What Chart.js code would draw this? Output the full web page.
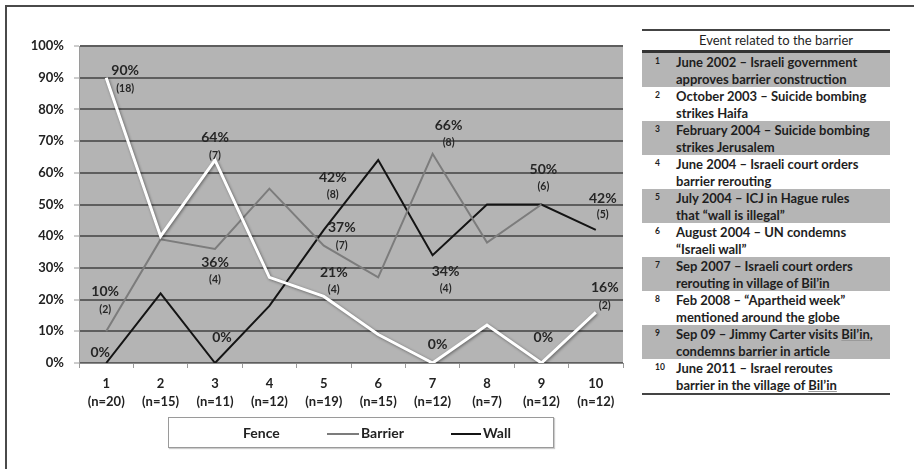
<!DOCTYPE html>
<html>
<head>
<meta charset="utf-8">
<script src="https://cdn.jsdelivr.net/npm/chart.js@4.4.0/dist/chart.umd.min.js"></script>
<style>
  body { margin: 0; background: #fff; font-family: Lato, "Liberation Sans", sans-serif; }
  #page { position: relative; width: 914px; height: 469px; overflow: hidden; background: #fff; }
  #frame { position: absolute; left: 5px; top: 5px; width: 920px; height: 480px;
           border-top: 2px solid #4a4a4a; border-left: 2px solid #4a4a4a; }
  #chartBox { position: absolute; left: 0; top: 0; width: 640px; height: 469px; }
  #legend { position: absolute; left: 168px; top: 417px; width: 384px; height: 29px;
            border: 1px solid #9a9a9a; box-shadow: 1px 1px 1px #ccc; background: #fff; }
  .lg { position: absolute; top: 0; height: 29px; line-height: 29px; font-size: 14px; font-weight: bold; color: #222; }
  .lg i { display: inline-block; vertical-align: middle; height: 2px; margin-right: 2px; }
  #tbl { position: absolute; left: 642px; top: 29px; width: 248px; color: #1e1e1e; font-size: 13px; }
  #tbl .hd { border-top: 2px solid #444; border-bottom: 3px solid #333; height: 19px; line-height: 19px;
             text-align: center; font-size: 13px; padding-left: 20px; box-sizing: content-box; }
  #tbl .row { position: relative; height: 34px; }
  #tbl .row.g { background: #b5b5b5; }
  #tbl .row .n { position: absolute; left: 13px; top: 3px; font-size: 8.5px; font-weight: bold; }
  #tbl .row .t { position: absolute; left: 34px; top: 1px; line-height: 16.5px; font-weight: bold; white-space: nowrap; }
  #tbl .end { border-top: 2px solid #444; }
  .sp { text-decoration: underline; text-decoration-color: #9a9a9a; text-decoration-thickness: 1px; }
</style>
</head>
<body>
<div id="page">
  <div id="frame"></div>
  <div id="chartBox"><canvas id="lineChart" width="640" height="469"></canvas></div>
  <div id="legend"></div>
  <div id="tbl"></div>
</div>
<script>
// x categories (event number and sample size)
var categories = [["1", "(n=20)"], ["2", "(n=15)"], ["3", "(n=11)"], ["4", "(n=12)"], ["5", "(n=19)"],
                  ["6", "(n=15)"], ["7", "(n=12)"], ["8", "(n=7)"], ["9", "(n=12)"], ["10", "(n=12)"]];
var yTickLabels = ["0%", "10%", "20%", "30%", "40%", "50%", "60%", "70%", "80%", "90%", "100%"];

var seriesNames = ["Fence", "Barrier", "Wall"];
var fenceValues   = [90, 40, 64, 27, 21, 9, 0, 12, 0, 16];
var barrierValues = [10, 39, 36, 55, 37, 27, 66, 38, 50, null];
var wallValues    = [0, 22, 0, 18, 42, 64, 34, 50, 50, 42];

// labels printed on the chart
var fencePct     = ["90%", "", "64%", "", "21%", "", "0%", "", "0%", "16%"];
var fenceCount   = ["(18)", "", "(7)", "", "(4)", "", "", "", "", "(2)"];
var barrierPct   = ["10%", "", "36%", "", "37%", "", "66%", "", "50%", ""];
var barrierCount = ["(2)", "", "(4)", "", "(7)", "", "(8)", "", "(6)", ""];
var wallPct      = ["0%", "", "0%", "", "42%", "", "34%", "", "", "42%"];
var wallCount    = ["", "", "", "", "(8)", "", "(4)", "", "", "(5)"];

// events table
var eventNums = ["1", "2", "3", "4", "5", "6", "7", "8", "9", "10"];
var eventLines = [
  ["June 2002 \u2013 Israeli government", "approves barrier construction"],
  ["October 2003 \u2013 Suicide bombing", "strikes Haifa"],
  ["February 2004 \u2013 Suicide bombing", "strikes Jerusalem"],
  ["June 2004 \u2013 Israeli court orders", "barrier rerouting"],
  ["July 2004 \u2013 ICJ in Hague rules", "that \u201cwall is illegal\u201d"],
  ["August 2004 \u2013 UN condemns", "\u201cIsraeli wall\u201d"],
  ["Sep 2007 \u2013 Israeli court orders", "rerouting in village of Bil\u2019in"],
  ["Feb 2008 \u2013 \u201cApartheid week\u201d", "mentioned around the globe"],
  ["Sep 09 \u2013 Jimmy Carter visits Bil\u2019in,", "condemns barrier in article"],
  ["June 2011 \u2013 Israel reroutes", "barrier in the village of Bil\u2019in"]
];
var tableTitle = "Event related to the barrier";

// styling
var colors = ["#ffffff", "#7c7c7c", "#141414"];
var widths = [3, 2, 2];
// label offsets per dataset/point: [dx, dyPct, dyCount]
var labelOffsets = [
  {0: [19, -7, 11], 2: [0, -23, -5], 4: [10, -24, -7], 6: [5, -19], 8: [2, -26], 9: [9, -25, -7]},
  {0: [-1, -40, -22], 2: [0, 14, 31], 4: [18, -18, 0], 6: [16, -28, -11], 8: [2, -35, -18]},
  {0: [-6, -11], 2: [7, -26], 4: [9, -52, -35], 6: [13, 16, 33], 9: [7, -31, -15]}
];
var pctLists = [fencePct, barrierPct, wallPct];
var countLists = [fenceCount, barrierCount, wallCount];

var plotBg = {
  id: "plotBg",
  beforeDraw: function (chart) {
    var a = chart.chartArea, c = chart.ctx;
    c.save();
    c.fillStyle = "#b4b4b4";
    c.fillRect(a.left, a.top, a.right - a.left, a.bottom - a.top);
    c.restore();
  }
};

var fenceShadow = {
  id: "fenceShadow",
  beforeDatasetDraw: function (chart, args) {
    if (args.index !== 0) return;
    var c = chart.ctx;
    c.save();
    c.shadowColor = "rgba(0,0,0,0.45)";
    c.shadowBlur = 3;
    c.shadowOffsetX = 1;
    c.shadowOffsetY = 1;
  },
  afterDatasetDraw: function (chart, args) {
    if (args.index !== 0) return;
    chart.ctx.restore();
  }
};

var pointLabels = {
  id: "pointLabels",
  afterDatasetsDraw: function (chart) {
    var c = chart.ctx;
    c.save();
    c.fillStyle = "#262626";
    c.textAlign = "center";
    c.textBaseline = "middle";
    for (var d = 0; d < 3; d++) {
      var meta = chart.getDatasetMeta(d);
      for (var i = 0; i < meta.data.length; i++) {
        var off = labelOffsets[d][i];
        if (!off) continue;
        var p = meta.data[i];
        if (pctLists[d][i]) {
          c.font = "bold 14px Lato";
          c.fillText(pctLists[d][i], p.x + off[0], p.y + off[1]);
        }
        if (countLists[d][i] && off.length > 2) {
          c.font = "bold 10.5px Lato";
          c.fillText(countLists[d][i], p.x + off[0], p.y + off[2]);
        }
      }
    }
    c.restore();
  }
};

var allSeries = [fenceValues, barrierValues, wallValues];
var datasets = [];
for (var s = 0; s < 3; s++) {
  datasets.push({
    label: seriesNames[s],
    data: allSeries[s],
    borderColor: colors[s],
    borderWidth: widths[s],
    pointRadius: 0,
    tension: 0,
    fill: false
  });
}

new Chart(document.getElementById("lineChart"), {
  type: "line",
  data: { labels: categories, datasets: datasets },
  plugins: [plotBg, fenceShadow, pointLabels],
  options: {
    responsive: false,
    animation: false,
    layout: { padding: { top: 46, right: 17, left: 0, bottom: 0 } },
    plugins: { legend: { display: false }, tooltip: { enabled: false } },
    scales: {
      x: {
        offset: true,
        grid: { offset: true, drawOnChartArea: false, tickLength: 5, color: "#9a9a9a" },
        border: { color: "#8a8a8a" },
        ticks: { color: "#222", padding: 6, font: { family: "Lato", size: 13, weight: "bold", lineHeight: 1.45 } },
        afterFit: function (sc) { sc.height = 106; }
      },
      y: {
        min: 0,
        max: 100,
        ticks: {
          stepSize: 10,
          color: "#222",
          padding: 10,
          font: { family: "Lato", size: 13, weight: "bold" },
          callback: function (v, i) { return yTickLabels[i]; }
        },
        grid: { color: "#5e5e5e", lineWidth: 2, tickLength: 5, tickColor: "#9a9a9a", tickWidth: 1 },
        border: { color: "#9a9a9a", width: 1 },
        afterFit: function (sc) { sc.width = 79; }
      }
    }
  }
});

// legend
var legendX = [32, 158, 282];
var swatchW = [40, 32, 30];
var lg = document.getElementById("legend");
for (var k = 0; k < seriesNames.length; k++) {
  var item = document.createElement("div");
  item.className = "lg";
  item.style.left = legendX[k] + "px";
  var sw = document.createElement("i");
  sw.style.width = swatchW[k] + "px";
  sw.style.background = colors[k];
  item.appendChild(sw);
  item.appendChild(document.createTextNode(seriesNames[k]));
  lg.appendChild(item);
}

// table
function markSpelling(txt) {
  return txt.replace(/Bil\u2019in/g, '<span class="sp">Bil\u2019in</span>');
}
var tbl = document.getElementById("tbl");
var html = '<div class="hd">' + tableTitle + '</div>';
for (var r = 0; r < eventNums.length; r++) {
  html += '<div class="row' + (r % 2 === 0 ? ' g' : '') + '"><span class="n">' + eventNums[r] + '</span>' +
          '<div class="t">' + markSpelling(eventLines[r][0]) + '<br>' + markSpelling(eventLines[r][1]) + '</div></div>';
}
html += '<div class="end"></div>';
tbl.innerHTML = html;
</script>
</body>
</html>
